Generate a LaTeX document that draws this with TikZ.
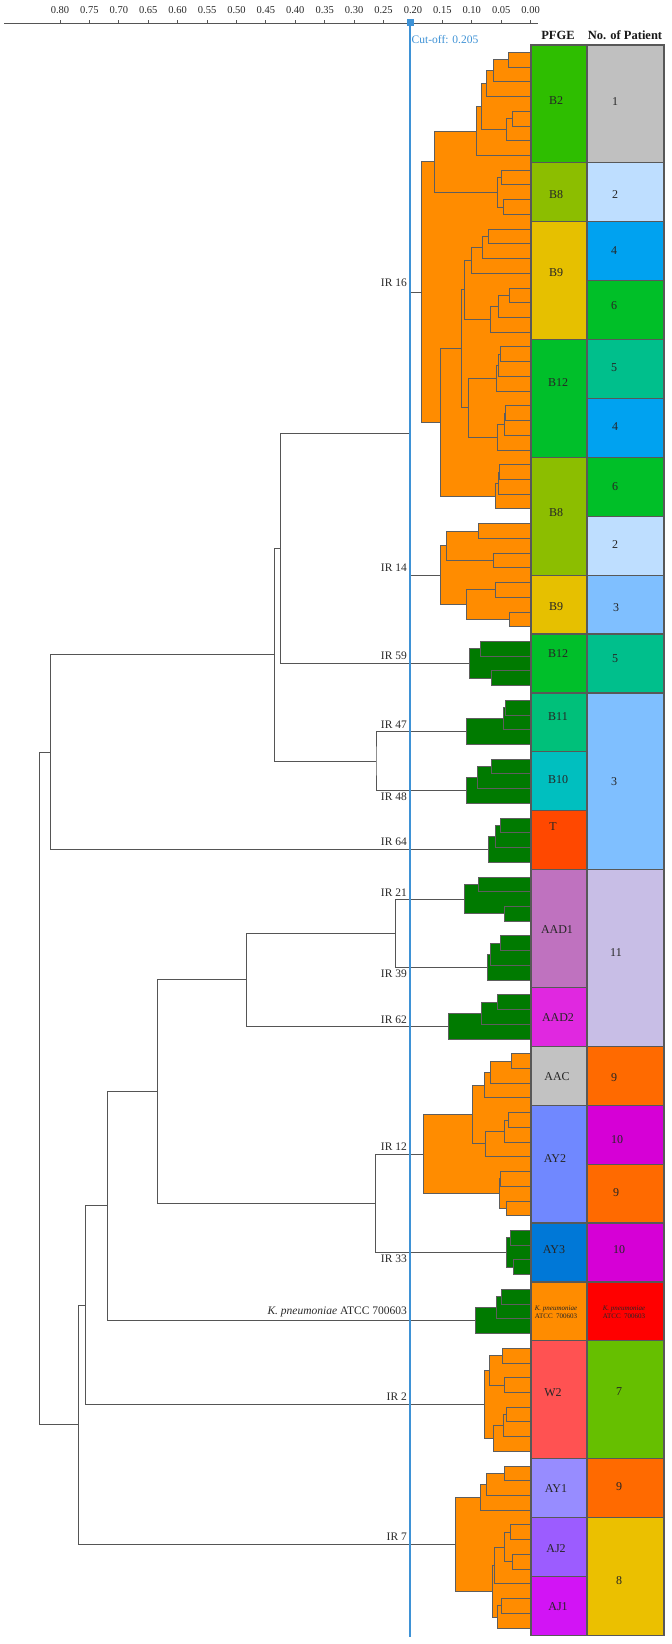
\documentclass[tikz,border=0pt]{standalone}
\usepackage{fontspec}
\setmainfont{Liberation Serif}
\definecolor{treeg}{HTML}{555555}
\definecolor{clg}{HTML}{5E5E5E}
\definecolor{boxg}{HTML}{585858}
\definecolor{labg}{HTML}{2A2A2A}
\definecolor{cutblue}{HTML}{3E92D6}
\definecolor{corange}{HTML}{FF8C00}
\definecolor{cgreen}{HTML}{007A00}
% PFGE colours
\definecolor{cB2}{HTML}{2EBE00}
\definecolor{cB8}{HTML}{8CBE00}
\definecolor{cB9}{HTML}{E6C000}
\definecolor{cB12}{HTML}{00BF2A}
\definecolor{cB11}{HTML}{00C07A}
\definecolor{cB10}{HTML}{00BFBF}
\definecolor{cT}{HTML}{FF4800}
\definecolor{cAADa}{HTML}{BF72BF}
\definecolor{cAADb}{HTML}{E028E0}
\definecolor{cAAC}{HTML}{C2C2C2}
\definecolor{cAYb}{HTML}{7088FF}
\definecolor{cAYc}{HTML}{0078D7}
\definecolor{cKp}{HTML}{FF8C00}
\definecolor{cW}{HTML}{FF5252}
\definecolor{cAYa}{HTML}{978CFF}
\definecolor{cAJb}{HTML}{9C5CFF}
\definecolor{cAJa}{HTML}{D214F5}
% patient colours
\definecolor{pa}{HTML}{C0C0C0}
\definecolor{pb}{HTML}{BEDEFF}
\definecolor{pd}{HTML}{00A2F0}
\definecolor{pf}{HTML}{00BF28}
\definecolor{pe}{HTML}{00BF8C}
\definecolor{pc}{HTML}{7FBFFF}
\definecolor{pk}{HTML}{C8BEE6}
\definecolor{pi}{HTML}{FF6A00}
\definecolor{pj}{HTML}{D600D6}
\definecolor{pr}{HTML}{FF0000}
\definecolor{pg}{HTML}{66BF00}
\definecolor{ph}{HTML}{EBC000}
\newcommand{\LY}[1]{(45+((#1)+0.5)*14.725)}
\newcommand{\RY}[1]{(45+(#1)*58.9)}
\tikzset{
  treeline/.style={draw=treeg, line width=0.9pt},
  clbox/.style={draw=clg, line width=0.8pt},
  cellbox/.style={draw=boxg, line width=1.2pt},
  irlab/.style={anchor=base east, inner sep=0pt, font=\fontsize{11.5}{13}\selectfont, text=labg},
  boxlab/.style={inner sep=0pt, font=\fontsize{12}{14}\selectfont, text=black!85},
  smalllab/.style={inner sep=0pt, align=center, font=\fontsize{7}{8}\selectfont, text=black!85},
  axlab/.style={inner sep=0pt, font=\fontsize{10.5}{12}\selectfont, text=labg},
  headlab/.style={inner sep=0pt, font=\fontsize{12.5}{14}\selectfont\bfseries, text=black!90},
}
\newcommand{\drawclu}[2]{\foreach \xa/\ta/\tb in {#2}{\path[clbox, fill=#1] (\xa,{\LY{\ta}}) rectangle (531,{\LY{\tb}});}}
\begin{document}
\begin{tikzpicture}[x=1pt,y=-1pt]
\useasboundingbox[fill=white] (0,0) rectangle (672,1644);
% ---------- axis ----------
\draw[treeline] (4,23) -- (538,23);
\foreach \i/\t in {0/0.00,1/0.05,2/0.10,3/0.15,4/0.20,5/0.25,6/0.30,7/0.35,8/0.40,9/0.45,10/0.50,11/0.55,12/0.60,13/0.65,14/0.70,15/0.75,16/0.80}{
  \draw[treeline] ({530.6-\i*29.4125},20) -- ({530.6-\i*29.4125},23);
  \node[axlab] (ax\i) at ({530.6-\i*29.4125},10) {\t};
}
% ---------- cluster roots ----------
\coordinate (r16) at (421.7,{\LY{16.2734}});
\coordinate (r14) at (440,{\LY{35.5}});
\coordinate (r59) at (469,{\LY{41.5}});
\coordinate (r47) at (466.7,{\LY{46.125}});
\coordinate (r48) at (466.7,{\LY{50.125}});
\coordinate (r64) at (488.3,{\LY{54.125}});
\coordinate (r21) at (464.7,{\LY{57.5}});
\coordinate (r39) at (487.3,{\LY{62.125}});
\coordinate (r62) at (448,{\LY{66.125}});
\coordinate (r12) at (423.3,{\LY{74.8125}});
\coordinate (r33) at (506.7,{\LY{81.5}});
\coordinate (rkp) at (475,{\LY{86.125}});
\coordinate (r2) at (484.3,{\LY{91.8125}});
\coordinate (r7) at (455.7,{\LY{101.3125}});
% ---------- internal nodes ----------
\coordinate (n1) at (409,{\LY{25.887}});
\coordinate (n2) at (280.7,{\LY{33.69}});
\coordinate (n3) at (376,{\LY{48.125}});
\coordinate (n4) at (274.7,{\LY{40.91}});
\coordinate (n5) at (50.7,{\LY{47.52}});
\coordinate (n6) at (395.3,{\LY{59.8125}});
\coordinate (n7) at (246.3,{\LY{62.97}});
\coordinate (n8) at (375.7,{\LY{78.156}});
\coordinate (n9) at (157.3,{\LY{70.56}});
\coordinate (n10) at (107.7,{\LY{78.34}});
\coordinate (n11) at (85.7,{\LY{85.08}});
\coordinate (n12) at (78.3,{\LY{93.20}});
\coordinate (n0) at (39.3,{\LY{70.36}});
\draw[treeline] (r47) -| (n3) |- (r48);
\draw[treeline] (n1) -| (n2) |- (r59);
\draw[treeline] (n2) -| (n4) |- (n3);
\draw[treeline] (n4) -| (n5) |- (r64);
\draw[treeline] (r21) -| (n6) |- (r39);
\draw[treeline] (n6) -| (n7) |- (r62);
\draw[treeline] (r12) -| (n8) |- (r33);
\draw[treeline] (n7) -| (n9) |- (n8);
\draw[treeline] (n9) -| (n10) |- (rkp);
\draw[treeline] (n10) -| (n11) |- (r2);
\draw[treeline] (n11) -| (n12) |- (r7);
\draw[treeline] (n5) -| (n0) |- (n12);
% ---------- clusters ----------
\drawclu{corange}{421.7/7.421875/25.125, 434.3/5.34375/9.5, 476.7/3.6875/7, 481/2.125/5.25, 486.7/1.25/3, 493.3/0.5/2, 508.3/0/1, 506.7/4.5/6, 512.7/4/5, 497.3/8.5/10.5, 501.7/8/9, 503.3/10/11, 440/20.125/30.125, 461.7/16.125/24.125, 464.3/14.125/18.125, 471.7/13.25/15, 482.3/12.5/14, 488.3/12/13, 490/17.25/19, 498.3/16.5/18, 509.3/16/17, 468.3/22.125/26.125, 496/21.25/23, 498.3/20.5/22, 500.7/20/21, 497.3/25.25/27, 504.3/24.5/26, 505.7/24/25, 495/29.25/31, 498.3/28.5/30, 499.3/28/29}
\drawclu{corange}{440/33.5/37.5, 446.7/32.5/34.5, 478.3/32/33, 493.3/34/35, 466/36.5/38.5, 495/36/37, 509.3/38/39}
\drawclu{cgreen}{469/40.5/42.5, 480/40/41, 491.7/42/43}
\drawclu{cgreen}{466.7/45.25/47, 503.3/44.5/46, 505/44/45}
\drawclu{cgreen}{466.7/49.25/51, 477.3/48.5/50, 491/48/49}
\drawclu{cgreen}{488.3/53.25/55, 495/52.5/54, 500/52/53}
\drawclu{cgreen}{464.7/56.5/58.5, 478.7/56/57, 504.3/58/59}
\drawclu{cgreen}{487.3/61.25/63, 490.7/60.5/62, 500.7/60/61}
\drawclu{cgreen}{448/65.25/67, 481.7/64.5/66, 497.3/64/65}
\drawclu{corange}{423.3/72.125/77.5, 472.3/70.125/74.125, 484/69.25/71, 490.7/68.5/70, 511/68/69, 485.7/73.25/75, 504/72.5/74, 508.3/72/73, 499/76.5/78.5, 500/76/77, 506.7/78/79}
\drawclu{cgreen}{506.7/80.5/82.5, 510/80/81, 513.3/82/83}
\drawclu{cgreen}{475/85.25/87, 496/84.5/86, 501/84/85}
\drawclu{corange}{484.3/89.5/94.125, 489.3/88.5/90.5, 502.3/88/89, 504.3/90/91, 493.3/93.25/95, 503.3/92.5/94, 506.7/92/93}
\drawclu{corange}{455.7/98.125/104.5, 480/97.25/99, 486/96.5/98, 504.3/96/97, 492.3/102.75/106.25, 494.3/101.5/104, 504.3/100.5/102.5, 510.7/100/101, 512.7/102/103, 497.3/105.5/107, 501.7/105/106}
% IR16 / IR14 join
\draw[treeline] (r16) -| (n1) |- (r14);
% ---------- labels ----------
\node[irlab] (l16) at (407,{\LY{16.2734}-5}) {IR 16};
\node[irlab] (l14) at (407,{\LY{35.5}-3.5}) {IR 14};
\node[irlab] (l59) at (407,{\LY{41.5}-3.5}) {IR 59};
\node[irlab] (l47) at (407,{\LY{46.125}-3.5}) {IR 47};
\node[irlab] (l48) at (407,{\LY{50.125}+10}) {IR 48};
\node[irlab] (l64) at (407,{\LY{54.125}-3.5}) {IR 64};
\node[irlab] (l21) at (407,{\LY{57.5}-3}) {IR 21};
\node[irlab] (l39) at (407,{\LY{62.125}+10}) {IR 39};
\node[irlab] (l62) at (407,{\LY{66.125}-3}) {IR 62};
\node[irlab] (l12) at (407,{\LY{74.8125}-3}) {IR 12};
\node[irlab] (l33) at (407,{\LY{81.5}+10}) {IR 33};
\node[irlab] (lkp) at (407,{\LY{86.125}-6}) {\textit{K. pneumoniae} ATCC 700603};
\node[irlab] (l2) at (407,{\LY{91.8125}-3.5}) {IR 2};
\node[irlab] (l7) at (407,{\LY{101.3125}-4}) {IR 7};
% ---------- cut-off ----------
\draw[cutblue, line width=1.1pt] (410,22) -- (410,1637);
\fill[cutblue] (406.5,18.5) rectangle (413.5,25.5);
\node[anchor=west, inner sep=0pt, text=cutblue, font=\fontsize{11.5}{13}\selectfont] (cut) at (411.5,40) {Cut-off: 0.205};
% ---------- headers ----------
\node[headlab] (hpfge) at (558,35) {PFGE};
\node[headlab] (hpat) at (625,35) {No. of Patient};
% ---------- PFGE column ----------
\foreach \lab/\col/\ka/\kb/\lx/\lyy [count=\c] in {B2/cB2/0/2/556/101, B8/cB8/2/3/556/195, B9/cB9/3/5/556/273, B12/cB12/5/7/558/383, B8/cB8/7/9/556/513, B9/cB9/9/10/556/607, B12/cB12/10/11/558/654, B11/cB11/11/12/558/717, B10/cB10/12/13/558/780, T/cT/13/14/553/827, AAD1/cAADa/14/16/557/930, AAD2/cAADb/16/17/558/1018, AAC/cAAC/17/18/557/1077, AY2/cAYb/18/20/555/1159, AY3/cAYc/20/21/554/1250, W2/cW/22/24/553/1393, AY1/cAYa/24/25/556/1489, AJ2/cAJb/25/26/556/1549, AJ1/cAJa/26/27/558/1607}{
  \path[cellbox, fill=\col] (531,{\RY{\ka}}) rectangle (587,{\RY{\kb}});
  \node[boxlab] (pf\c) at (\lx,\lyy) {\lab};
}
\path[cellbox, fill=cKp] (531,{\RY{21}}) rectangle (587,{\RY{22}});
\node[smalllab] (pfkp) at (556,1312) {\textit{K. pneumoniae}\\ATCC\ \ 700603};
% ---------- patient column ----------
\foreach \lab/\col/\ka/\kb/\lx/\lyy [count=\c] in {1/pa/0/2/615/102, 2/pb/2/3/615/195, 4/pd/3/4/614/251, 6/pf/4/5/614/306, 5/pe/5/6/614/368, 4/pd/6/7/615/427, 6/pf/7/8/615/487, 2/pb/8/9/615/545, 3/pc/9/10/616/608, 5/pe/10/11/615/659, 3/pc/11/14/614/782, 11/pk/14/17/616/953, 9/pi/17/18/614/1078, 10/pj/18/19/617/1140, 9/pi/19/20/616/1193, 10/pj/20/21/619/1250, 7/pg/22/24/619/1392, 9/pi/24/25/619/1487, 8/ph/25/27/619/1581}{
  \path[cellbox, fill=\col] (587,{\RY{\ka}}) rectangle (664,{\RY{\kb}});
  \node[boxlab] (pt\c) at (\lx,\lyy) {\lab};
}
\path[cellbox, fill=pr] (587,{\RY{21}}) rectangle (664,{\RY{22}});
\node[smalllab] (ptkp) at (624,1312) {\textit{K. pneumoniae}\\ATCC\ \ 700603};
\end{tikzpicture}
\end{document}
